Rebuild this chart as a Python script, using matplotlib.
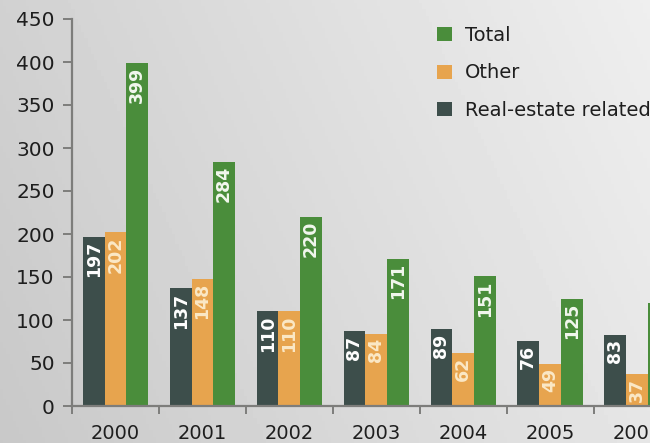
import numpy as np
import matplotlib

matplotlib.use('Agg')

import matplotlib.pyplot as plt

# data
years = ['2000', '2001', '2002', '2003', '2004', '2005', '2006']
real_estate = [197, 137, 110, 87, 89, 76, 83]
other = [202, 148, 110, 84, 62, 49, 37]
total = [399, 284, 220, 171, 151, 125, 120]

series = [
    ('Real-estate related', real_estate, '#3d4e4b', '#ffffff'),
    ('Other', other, '#e7a44e', '#fbe8c6'),
    ('Total', total, '#4a8d3b', '#f2f7ee'),
]

plt.rcParams['font.family'] = ['DejaVu Sans']

fig = plt.figure(figsize=(6.5, 4.43), dpi=100)

# scanned-paper grey gradient behind everything
bg = fig.add_axes([0, 0, 1, 1], zorder=-10)
gx, gy = np.meshgrid(np.linspace(0, 1, 200), np.linspace(0, 1, 140))
shade = 0.785 + 0.115 * gx + 0.035 * gy
bg.imshow(shade, cmap='gray', vmin=0, vmax=1, origin='lower',
          extent=[0, 1, 0, 1], aspect='auto')
bg.set_axis_off()

ax = fig.add_axes([72 / 650, 1 - 406 / 443, 1 - 72 / 650, (406 - 19) / 443])
ax.patch.set_alpha(0)

xmax = 6.15
x = np.arange(len(years))
width = 0.25
handles = []
for k, (name, vals, color, txtcolor) in enumerate(series):
    pos = x + (k - 1) * width
    bars = ax.bar(pos, vals, width=width, color=color, label=name, zorder=2)
    handles.append(bars)
    for p, v in zip(pos, vals):
        if p > xmax:
            # bar is cut by the page edge, its number is not visible
            continue
        ax.text(p, v - 5, str(v), rotation=90, ha='center', va='top',
                color=txtcolor, fontsize=12.5, fontweight='bold', zorder=3)

ax.set_xlim(-0.5, xmax)
ax.set_ylim(0, 450)
ax.set_yticks(range(0, 451, 50))

# tick marks between the groups, labels under the groups
ax.set_xticks(x - 0.5)
ax.set_xticklabels([])
ax.set_xticks(x, minor=True)
ax.set_xticklabels(years, minor=True)

spine_col = '#7d7d7b'
for s in ['top', 'right']:
    ax.spines[s].set_visible(False)
for s in ['left', 'bottom']:
    ax.spines[s].set_color(spine_col)
    ax.spines[s].set_linewidth(1.6)

ax.tick_params(axis='y', length=6.5, width=1.4, color=spine_col, pad=6,
               labelsize=14.5, labelcolor='#1e1e1e')
ax.tick_params(axis='x', which='major', length=6, width=1.4, color=spine_col)
ax.tick_params(axis='x', which='minor', length=0, pad=13,
               labelsize=14, labelcolor='#1e1e1e')

leg = fig.legend(handles=handles[::-1], labels=['Total', 'Other', 'Real-estate related'],
                 loc='upper left', bbox_to_anchor=(437 / 650, 1 - 26 / 443),
                 frameon=False, fontsize=14, handlelength=0.75, handleheight=0.75,
                 handletextpad=0.7, labelspacing=0.95, borderpad=0,
                 borderaxespad=0)
for t in leg.get_texts():
    t.set_color('#1e1e1e')

fig.savefig('out.png', dpi=100)
